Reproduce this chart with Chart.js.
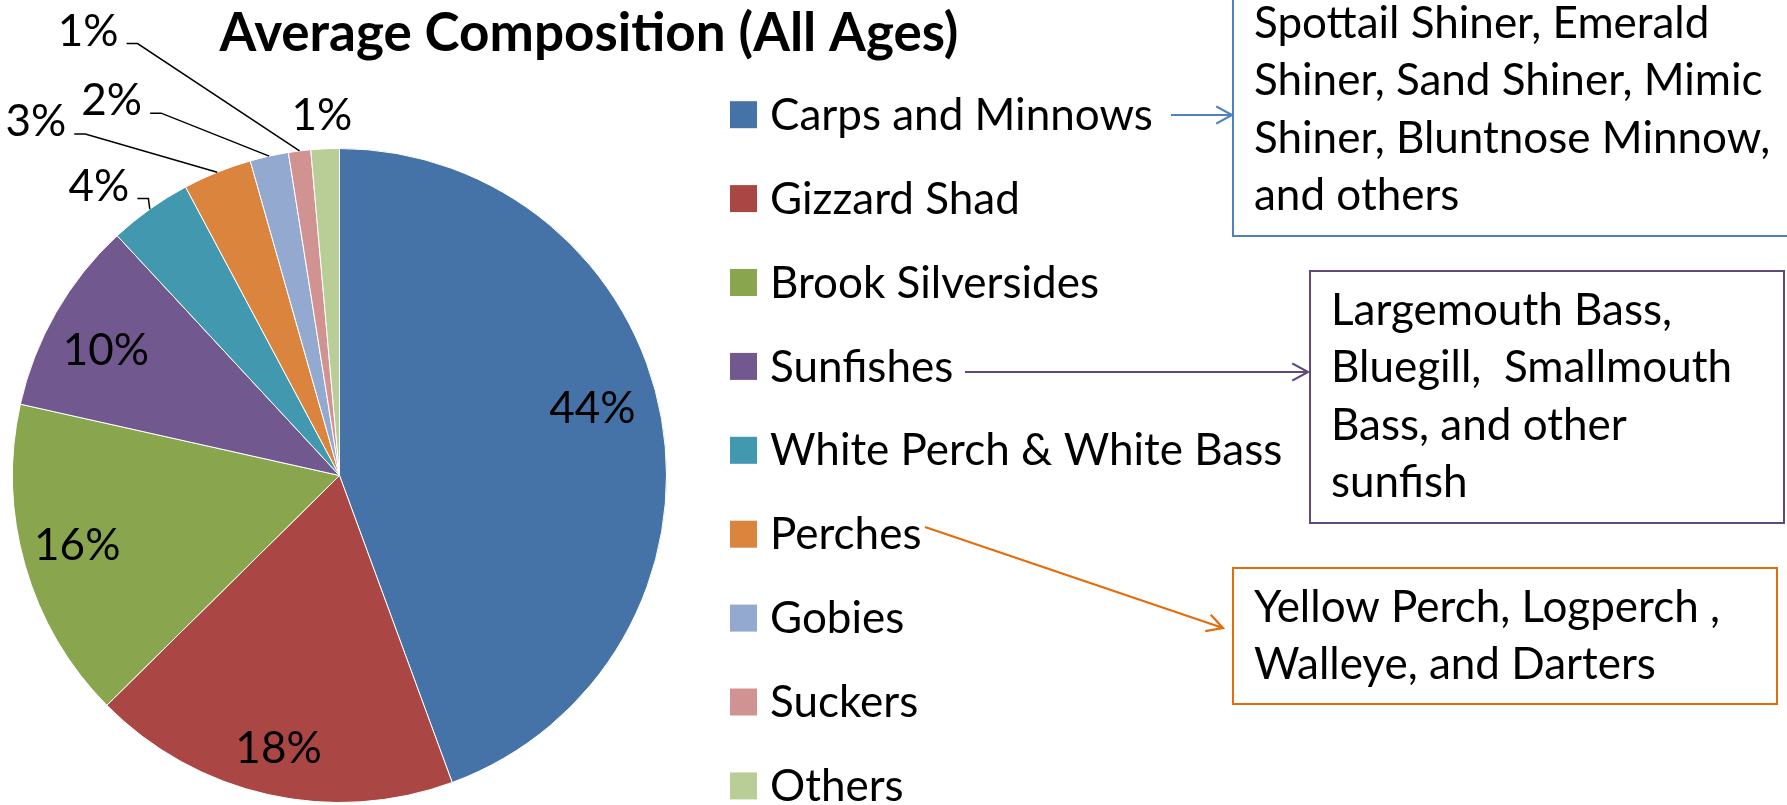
<!DOCTYPE html>
<html>
<head>
<meta charset="utf-8">
<title>Average Composition (All Ages)</title>
<script src="https://cdn.jsdelivr.net/npm/chart.js@4.4.1/dist/chart.umd.min.js"></script>
<style>
  html, body { margin: 0; padding: 0; background: #ffffff; }
  #wrap { width: 1787px; height: 805px; }
</style>
</head>
<body>
<div id="wrap"><canvas id="compositionChart" width="1787" height="805"></canvas></div>
<script>
// --- data -----------------------------------------------------------------
const categories = ['Carps and Minnows', 'Gizzard Shad', 'Brook Silversides', 'Sunfishes',
    'White Perch & White Bass', 'Perches', 'Gobies', 'Suckers', 'Others'];
const shares = [44.4, 18.2, 15.9, 9.6, 4.1, 3.4, 1.9, 1.1, 1.4];
const sliceColors = ['#4572A7', '#AA4643', '#89A54E', '#71588F', '#4198AF',
    '#DB843D', '#93A9CF', '#D19392', '#B9CD96'];

const carpsNote = ['Spottail Shiner, Emerald', 'Shiner, Sand Shiner, Mimic', 'Shiner, Bluntnose Minnow,', 'and others'];
const sunfishNote = ['Largemouth Bass,', 'Bluegill,  Smallmouth', 'Bass, and other', 'sunfish'];
const perchNote = ['Yellow Perch, Logperch ,', 'Walleye, and Darters'];

// where each percentage sits: share of the radius, and a turn (deg) off the slice middle
const labelRadius = [0.80, 0.855, 0.83, 0.81, 1.15, 1.425, 1.34, 1.56, 1.10];
const labelTurn = [-4.8, 0, 1.1, -1.8, -4.3, -18.7, -18.9, -22.5, -0.3];
const hasLeader = [false, false, false, false, true, true, true, true, false];

const FONT = "Lato, 'Open Sans', sans-serif";

function drawArrow(ctx, x1, y1, x2, y2, color) {
    const a = Math.atan2(y2 - y1, x2 - x1);
    ctx.strokeStyle = color;
    ctx.lineWidth = 2.2;
    ctx.beginPath();
    ctx.moveTo(x1, y1);
    ctx.lineTo(x2, y2);
    ctx.moveTo(x2 - 18 * Math.cos(a - 0.5), y2 - 18 * Math.sin(a - 0.5));
    ctx.lineTo(x2, y2);
    ctx.lineTo(x2 - 18 * Math.cos(a + 0.5), y2 - 18 * Math.sin(a + 0.5));
    ctx.stroke();
}

function drawNote(ctx, lines, box, color, textX, firstBaseline, lineGap) {
    ctx.strokeStyle = color;
    ctx.lineWidth = 2;
    ctx.strokeRect(box[0], box[1], box[2] - box[0], box[3] - box[1]);
    ctx.fillStyle = '#000';
    ctx.font = '44px ' + FONT;
    ctx.textAlign = 'left';
    ctx.textBaseline = 'alphabetic';
    lines.forEach((line, i) => ctx.fillText(line, textX, firstBaseline + i * lineGap));
}

const decorPlugin = {
    id: 'decor',
    afterDatasetsDraw(chart) {
        const ctx = chart.ctx;
        const ds = chart.data.datasets[0];
        const arcs = chart.getDatasetMeta(0).data;
        const total = ds.data.reduce((s, v) => s + v, 0);
        ctx.save();

        // title
        ctx.fillStyle = '#000';
        ctx.font = 'bold 53px ' + FONT;
        ctx.textAlign = 'center';
        ctx.textBaseline = 'alphabetic';
        ctx.fillText('Average Composition (All Ages)', 589, 51);

        // percentage labels
        ctx.font = '44px ' + FONT;
        ctx.textBaseline = 'middle';
        ctx.strokeStyle = '#000';
        ctx.lineWidth = 1.5;
        arcs.forEach((arc, i) => {
            const p = arc.getProps(['x', 'y', 'startAngle', 'endAngle', 'outerRadius'], true);
            const mid = (p.startAngle + p.endAngle) / 2;
            const at = mid + labelTurn[i] * Math.PI / 180;
            const r = p.outerRadius * labelRadius[i];
            const lx = p.x + Math.cos(at) * r;
            const ly = p.y + Math.sin(at) * r;
            const text = Math.round(ds.data[i] / total * 100) + '%';
            ctx.textAlign = 'center';
            ctx.fillText(text, lx, ly);
            if (hasLeader[i]) {
                const w = ctx.measureText(text).width;
                const rx = p.x + Math.cos(mid) * p.outerRadius;
                const ry = p.y + Math.sin(mid) * p.outerRadius;
                const sx = lx + w / 2 + 8;
                const sy = ly + 12;
                ctx.beginPath();
                ctx.moveTo(sx, sy);
                ctx.lineTo(sx + 11, sy);
                ctx.lineTo(rx, ry);
                ctx.stroke();
            }
        });

        // legend
        ctx.font = '44px ' + FONT;
        ctx.textAlign = 'left';
        chart.data.labels.forEach((name, i) => {
            const cy = 114.7 + 83.9 * i;
            ctx.fillStyle = ds.backgroundColor[i];
            ctx.fillRect(730, cy - 13.5, 27, 27);
            ctx.fillStyle = '#000';
            ctx.fillText(name, 770, cy + 1);
        });

        // callouts
        drawArrow(ctx, 1171, 115, 1232, 115, '#4F81BD');
        drawNote(ctx, carpsNote, [1233, -4, 1792, 236], '#4F81BD', 1254, 38, 57.3);
        drawArrow(ctx, 965, 372, 1308, 372, '#604A7B');
        drawNote(ctx, sunfishNote, [1310, 271, 1784, 523], '#604A7B', 1331, 325, 57.3);
        drawArrow(ctx, 925, 527, 1223, 628, '#E46C0A');
        drawNote(ctx, perchNote, [1233, 568, 1777, 704], '#E46C0A', 1254, 622, 56.5);

        ctx.restore();
    }
};

const chartCtx = document.getElementById('compositionChart').getContext('2d');
const compositionChart = new Chart(chartCtx, {
    type: 'pie',
    data: {
        labels: categories,
        datasets: [{
            data: shares,
            backgroundColor: sliceColors,
            borderColor: '#ffffff',
            borderWidth: 1
        }]
    },
    options: {
        responsive: false,
        animation: false,
        layout: { padding: { left: 12, top: 148, right: 1120, bottom: 2 } },
        plugins: {
            legend: { display: false },
            title: { display: false },
            tooltip: { enabled: false }
        }
    },
    plugins: [decorPlugin]
});
</script>
</body>
</html>
